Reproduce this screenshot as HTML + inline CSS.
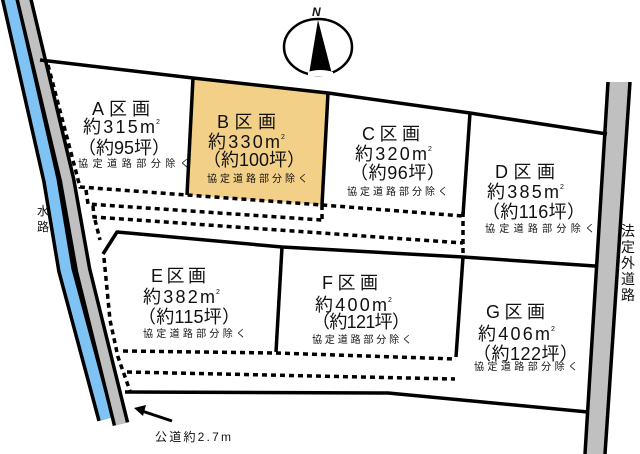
<!DOCTYPE html>
<html><head><meta charset="utf-8"><style>
html,body{margin:0;padding:0;background:#fff;width:640px;height:454px;overflow:hidden}
svg{display:block}
text{font-family:"Liberation Sans","Noto Sans CJK JP",sans-serif;fill:#111}
</style></head><body>
<svg width="640" height="454" viewBox="0 0 640 454" xmlns="http://www.w3.org/2000/svg">
<polygon points="193,78 328,93 322,205 187,195" fill="#f2d088"/>
<path d="M9,-5 L51,180 L66,270 L106,419" fill="none" stroke="#000" stroke-width="18"/>
<path d="M9,-5 L51,180 L66,270 L106,419" fill="none" stroke="#7fc3f5" stroke-width="11"/>
<path d="M23,-5 L67,180 L83,270 L121,424" fill="none" stroke="#000" stroke-width="17"/>
<path d="M23,-5 L67,180 L83,270 L121,424" fill="none" stroke="#c0c0c0" stroke-width="10"/>
<polygon points="609,82 629,82 604,454 585,454" fill="#c0c0c0"/>
<path d="M608,82 L585,454 M630,82 L605,454" stroke="#000" stroke-width="3.5" fill="none"/>
<g fill="none" stroke="#000" stroke-width="3.5" stroke-linejoin="round">
<polyline points="40,60 193,78 328,93 470,113 607,134"/>
<line x1="193" y1="78" x2="187" y2="195"/>
<line x1="328" y1="93" x2="322" y2="205"/>
<line x1="470" y1="113" x2="463" y2="215"/>
<polyline points="103,254 117,232 282,247 463,257 595,266"/>
<line x1="282" y1="247" x2="276" y2="352"/>
<line x1="463" y1="257" x2="456" y2="357"/>
<polyline points="125,392 388,393 588,412"/>
</g>
<g fill="none" stroke="#000" stroke-width="3.5" stroke-dasharray="5,4">
<polyline points="48,65 80,187 187,195 322,205 463,216"/>
<polyline points="86,190 88,204 322,220"/>
<line x1="322" y1="205" x2="322" y2="220"/>
<polyline points="93,206 94,217 463,243"/>
<line x1="463" y1="212" x2="463" y2="256"/>
<polyline points="95,220 100,240"/>
<polyline points="104,258 110,320 118,357 130,391"/>
<polyline points="123,351 276,353 456,359"/>
<polyline points="127,372 455,379"/>
</g>
<line x1="172" y1="421" x2="142" y2="411" stroke="#000" stroke-width="3"/>
<polygon points="134,408 146,405 143,416" fill="#000"/>
<text x="155" y="441" font-size="12" textLength="76">公道約2.7m</text>
<ellipse cx="318" cy="47" rx="34" ry="28" fill="none" stroke="#000" stroke-width="2.5"/>
<polygon points="318,20 309,74 332,74" fill="#000"/>
<path d="M308,72 Q320,68 333,72 L333,76 L308,76Z" fill="#fff"/>
<text x="312" y="16" font-size="12" font-weight="bold" font-style="italic">N</text>
<g font-size="12">
<text x="37" y="215">水</text><text x="37" y="231">路</text>
</g>
<g font-size="14">
<text x="621" y="236">法</text><text x="621" y="252">定</text><text x="621" y="268">外</text><text x="621" y="284">道</text><text x="621" y="300">路</text>
</g>
<g font-size="18">
<text x="92" y="115" textLength="58">A区画</text>
<text x="83" y="133" textLength="72">約315m</text><text x="156" y="124" font-size="7">2</text>
<text x="78" y="154" textLength="92">（約95坪）</text>
<text x="217" y="128" textLength="59">B区画</text>
<text x="208" y="148" textLength="72">約330m</text><text x="281" y="139" font-size="7">2</text>
<text x="203" y="166" textLength="102">（約100坪）</text>
<text x="362" y="140" textLength="58">C区画</text>
<text x="355" y="160" textLength="72">約320m</text><text x="428" y="151" font-size="7">2</text>
<text x="350" y="179" textLength="95">（約96坪）</text>
<text x="495" y="178" textLength="60">D区画</text>
<text x="487" y="198" textLength="72">約385m</text><text x="560" y="189" font-size="7">2</text>
<text x="482" y="218" textLength="103">（約116坪）</text>
<text x="151" y="282" textLength="55">E区画</text>
<text x="143" y="303" textLength="72">約382m</text><text x="216" y="294" font-size="7">2</text>
<text x="138" y="323" textLength="102">（約115坪）</text>
<text x="322" y="289" textLength="56">F区画</text>
<text x="315" y="311" textLength="72">約400m</text><text x="388" y="302" font-size="7">2</text>
<text x="312" y="328" textLength="98">（約121坪）</text>
<text x="486" y="318" textLength="59">G区画</text>
<text x="478" y="340" textLength="72">約406m</text><text x="551" y="331" font-size="7">2</text>
<text x="473" y="360" textLength="105">（約122坪）</text>
</g>
<g font-size="10">
<text x="78" y="167" textLength="112">協定道路部分除く</text>
<text x="207" y="182" textLength="101">協定道路部分除く</text>
<text x="347" y="195" textLength="101">協定道路部分除く</text>
<text x="485" y="232" textLength="110">協定道路部分除く</text>
<text x="143" y="337" textLength="103">協定道路部分除く</text>
<text x="312" y="343" textLength="100">協定道路部分除く</text>
<text x="474" y="370" textLength="104">協定道路部分除く</text>
</g>
</svg>
</body></html>
